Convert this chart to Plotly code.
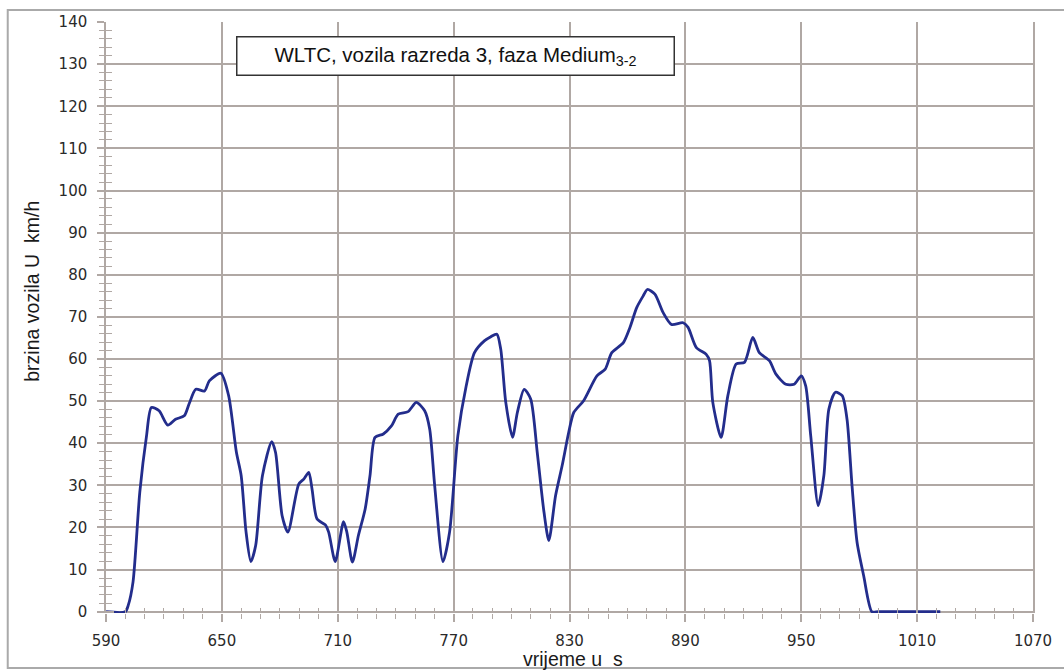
import plotly.graph_objects as go

# WLTC class 3, Medium phase (3-2): time [s] and vehicle speed [km/h]
time_s = [590, 600, 601.5, 604, 607.5, 611, 613.5, 617.5, 622, 626, 630.5, 633,
          636.5, 641, 643.5, 649.5, 653.5, 657.5, 660, 662.5, 665, 667.5, 671,
          675.8, 677.8, 681.2, 684.2, 689.8, 692.4, 695, 696.7, 699.3, 703.6,
          705.3, 708.7, 713, 714.7, 717.6, 720.7, 724.2, 726.7, 729.3, 733.6,
          737.8, 741.3, 746.4, 750.7, 755, 757.6, 760.2, 764.5, 767.9, 772.2,
          776.5, 780.8, 785.9, 789.3, 792.4, 794.4, 797, 800.5, 803, 806.5,
          809.9, 813.3, 816.8, 819.3, 822.8, 826.2, 829.6, 832.2, 837.3, 844.2,
          848.5, 851.9, 857.9, 861.3, 864.8, 868.2, 870.3, 874.2, 878.5, 882.8,
          888.8, 891.4, 895.7, 900.8, 902.5, 904.2, 908.5, 912, 916.3, 920.6,
          924.9, 928.3, 933.5, 936.9, 942, 946.3, 950, 952.3, 954.9, 958.8,
          961.7, 964.3, 967.7, 971.2, 973.7, 976.3, 978.9, 982.3, 986.6, 990,
          1022]
speed_kmh = [0, 0, 1.5, 7.1, 28.4, 41.8, 48.5, 47.7, 44.3, 45.7, 46.5, 49.3,
             52.8, 52.4, 54.8, 56.6, 51.3, 37.9, 32.3, 19.0, 11.9, 15.7, 32.3,
             40.4, 37.8, 22.8, 18.9, 30.3, 31.5, 33.1, 29.1, 22.0, 20.6,
             18.9, 11.9, 21.4, 18.9, 11.8, 18.1, 24.4, 32.3, 41.4, 42.2,
             44.1, 46.9, 47.5, 49.7, 47.7, 43.4, 29.9, 11.9, 18.9, 41.8,
             53.6, 61.5, 64.3, 65.3, 65.9, 62.3, 49.7, 41.4, 47.3, 52.8,
             50.5, 37.8, 23.6, 16.9, 27.6, 34.7, 42.6, 47.3, 50.1, 56.0,
             57.6, 61.5, 63.9, 67.5, 72.2, 75.0, 76.5, 75.4, 71.0, 68.2,
             68.6, 67.5, 62.7, 61.1, 59.6, 49.7, 41.4, 51.3, 58.8, 59.2,
             65.1, 61.5, 59.6, 56.4, 54.0, 54.0, 56.0, 53.6, 41.8, 25.2,
             32.3, 48.1, 52.1, 51.3, 45.7, 29.9, 16.5, 8.6, 0, 0,
             0]

x_range = [590, 1070]
# a hair below zero so the standstill segments are not half-clipped;
# the zero line then serves as the time axis
y_range = [-0.3, 140]

grid_col = "rgb(176,168,164)"
tick_font = dict(family="DejaVu Sans", size=15, color="#2a2a2a")
title_font = dict(family="Liberation Sans, Arial", size=19.5, color="#1a1a1a")

fig = go.Figure()
fig.add_trace(go.Scatter(
    x=time_s, y=speed_kmh, mode="lines",
    line=dict(color="rgb(35,45,140)", width=2.8, shape="spline", smoothing=0.7),
    showlegend=False, hoverinfo="x+y",
))
# invisible trace on the overlay axes so that they are drawn
fig.add_trace(go.Scatter(x=[None], y=[None], xaxis="x2", yaxis="y2",
                         showlegend=False, hoverinfo="skip"))

common_x = dict(range=x_range, tick0=590, dtick=60,
                tickcolor=grid_col, tickwidth=1.5)
common_y = dict(range=y_range, tick0=0, dtick=10, linecolor=grid_col,
                linewidth=1.5, tickcolor=grid_col, tickwidth=1.5)

fig.update_layout(
    width=1064, height=670,
    margin=dict(l=106, r=24, t=22, b=57),
    paper_bgcolor="white", plot_bgcolor="white",
    xaxis=dict(**common_x, showgrid=True, gridcolor=grid_col, gridwidth=1.5,
               zeroline=False, showline=False,
               ticks="outside", ticklen=8, tickfont=tick_font,
               ticklabelstandoff=6,
               minor=dict(dtick=10, tick0=590, ticks="outside", ticklen=5,
                          tickcolor=grid_col, tickwidth=1.2, showgrid=False)),
    yaxis=dict(**common_y, showgrid=True, gridcolor=grid_col, gridwidth=1.5,
               zeroline=True, zerolinecolor=grid_col, zerolinewidth=1.6,
               showline=True, mirror=True,
               ticks="outside", ticklen=7, tickfont=tick_font,
               ticklabelstandoff=7,
               minor=dict(dtick=2, tick0=0, ticks="outside", ticklen=5,
                          tickcolor=grid_col, tickwidth=1.2, showgrid=False)),
    # overlay axes carry the inner half of the crossing ticks
    xaxis2=dict(**common_x, overlaying="x", anchor="y2", side="bottom",
                showgrid=False, zeroline=False, showline=False,
                showticklabels=False, ticks="inside", ticklen=7,
                minor=dict(dtick=10, tick0=590, ticks="inside", ticklen=5,
                           tickcolor=grid_col, tickwidth=1.2, showgrid=False)),
    yaxis2=dict(**common_y, overlaying="y", anchor="x2", side="left",
                showgrid=False, zeroline=False, showline=False,
                showticklabels=False, ticks="inside", ticklen=8,
                minor=dict(dtick=2, tick0=0, ticks="inside", ticklen=6,
                           tickcolor=grid_col, tickwidth=1.2, showgrid=False)),
    annotations=[
        dict(text="WLTC, vozila razreda 3, faza Medium<sub>3-2</sub>",
             xref="paper", yref="paper", x=0.377, y=0.9425,
             xanchor="center", yanchor="middle", showarrow=False,
             font=dict(family="Liberation Sans, Arial", size=20.5, color="#111"),
             bgcolor="white", bordercolor="#333", borderwidth=1.5,
             borderpad=2, width=432, height=33),
        dict(text="brzina vozila U  km/h", xref="paper", yref="paper",
             x=-0.08, y=0.545, xanchor="center", yanchor="middle",
             textangle=-90, showarrow=False, font=title_font),
        dict(text="vrijeme u  s", xref="paper", yref="paper",
             x=0.504, y=-0.078, xanchor="center", yanchor="middle",
             showarrow=False, font=title_font),
    ],
    shapes=[
        dict(type="rect", xref="paper", yref="paper",
             x0=-0.106, x1=1.2, y0=-0.093, y1=1.0203,
             line=dict(color="rgb(170,170,170)", width=2),
             fillcolor="rgba(0,0,0,0)", layer="below"),
    ],
)

fig.write_html("out.html")
